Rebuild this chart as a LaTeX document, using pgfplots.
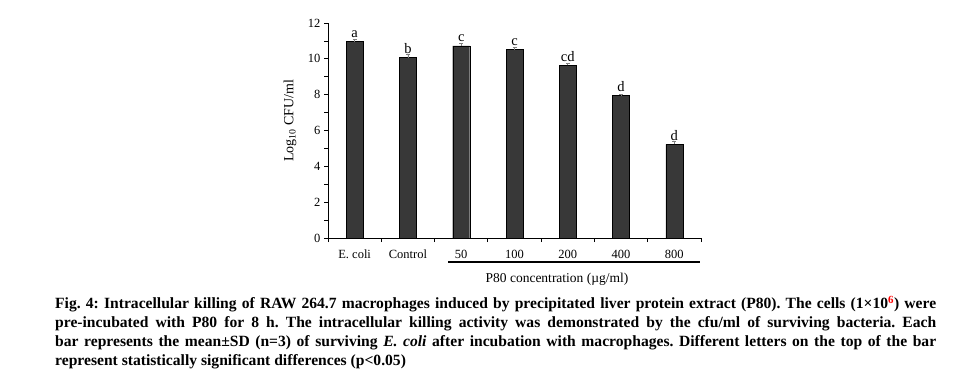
\documentclass[border=0pt]{standalone}
\usepackage{pgfplots}
\pgfplotsset{compat=1.18}
\usepackage{fontspec}
\setmainfont{Liberation Serif}
\definecolor{barfill}{HTML}{383838}
\begin{document}
\begin{tikzpicture}[x=1pt,y=1pt]
\useasboundingbox (0,0) rectangle (968,-384);
\begin{axis}[
  at={(328pt,-238pt)}, anchor=south west,
  scale only axis, width=373pt, height=215pt,
  xmin=-0.5, xmax=6.5, ymin=0, ymax=12,
  axis x line=bottom, axis y line=left, axis line style={-, line width=0.9pt},
  ytick={0,2,...,12}, minor ytick={1,3,...,11},
  xtick={0,...,6}, xticklabels={E. coli, Control, 50, 100, 200, 400, 800},
  minor xtick={-0.5,0.5,...,6.5},
  major x tick style={draw=none},
  tick align=outside, major tick length=4pt, minor tick length=4pt,
  tick style={black, line width=0.8pt},
  tick label style={font=\fontsize{12.5}{12.5}\selectfont},
  /pgf/number format/assume math mode=true,
  xticklabel style={anchor=base, yshift=-16pt},
  ylabel={Log\textsubscript{10} CFU/ml},
  ylabel style={font=\fontsize{14}{14}\selectfont, at={(axis description cs:-0.075,0.545)}},
  point meta=explicit symbolic,
  nodes near coords,
  every node near coord/.append style={font=\fontsize{14.5}{14.5}\selectfont, anchor=south, inner sep=0pt, yshift=3.5pt},
]
\addplot[ybar, bar width=17pt, fill=barfill, draw=black,
  error bars/.cd, y dir=plus, y explicit, error bar style={gray, line width=0.6pt}, error mark options={gray, mark size=2pt, rotate=90}]
  table[x=x, y=y, y error=e, meta=l] {
x y e l
0 10.96 0.12 a
1 10.07 0.18 b
2 10.73 0.15 c
3 10.52 0.12 c
4 9.63 0.10 cd
5 7.95 0.08 d
6 5.23 0.15 d
};
\end{axis}
\draw[line width=1.5pt] (448,-262) -- (700,-262);
\node[anchor=base, inner sep=0, font=\fontsize{13.5}{13.5}\selectfont] at (557,-282) {P80 concentration (µg/ml)};
\node[anchor=north west, inner sep=0, text width=881pt, align=justify, font=\fontsize{15.6}{19}\selectfont\bfseries\frenchspacing] at (55,-296)
{Fig. 4: Intracellular killing of RAW 264.7 macrophages induced by precipitated liver protein extract (P80). The cells (1×10\textsuperscript{\textcolor{red}{6}}) were\linebreak
pre-incubated with P80 for 8 h. The intracellular killing activity was demonstrated by the cfu/ml of surviving bacteria. Each\linebreak
bar represents the mean±SD (n=3) of surviving \textit{E. coli} after incubation with macrophages. Different letters on the top of the bar\linebreak
represent statistically significant differences (p<0.05)};
\end{tikzpicture}
\end{document}
